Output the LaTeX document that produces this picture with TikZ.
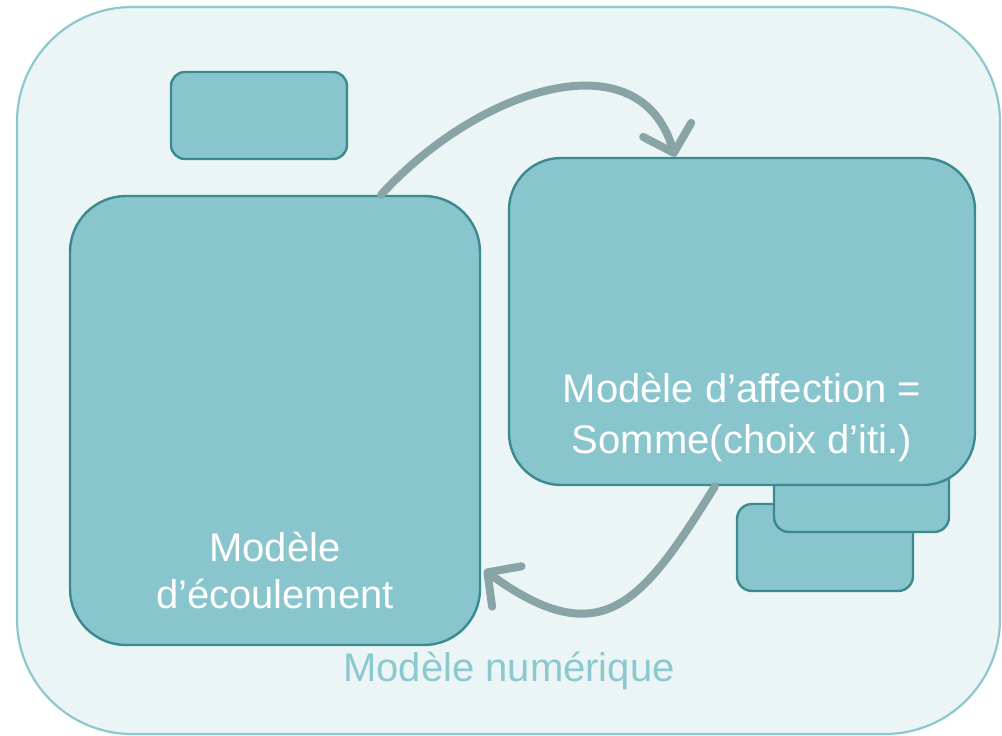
\documentclass[tikz,border=0pt]{standalone}
\usepackage{fontspec}
\setmainfont{Liberation Sans}
\usetikzlibrary{arrows.meta,calc}
\definecolor{panelfill}{HTML}{EBF5F6}
\definecolor{panelline}{HTML}{8CC8CE}
\definecolor{boxfill}{HTML}{89C5CC}
\definecolor{boxline}{HTML}{3B8A90}
\definecolor{flow}{HTML}{88A4A6}
\definecolor{captioncol}{HTML}{8CC8CE}

\begin{document}
\begin{tikzpicture}[x=1pt,y=-1pt,
  panel/.style={draw=panelline, fill=panelfill, line width=2.2pt, rectangle,
    rounded corners=115pt, inner sep=0pt},
  modelbox/.style={draw=boxline, fill=boxfill, line width=2.4pt, rectangle, inner sep=0pt},
  flowarrow/.style={draw=flow, line width=8pt, line cap=round,
    -{Straight Barb[length=24pt,width=50pt,line cap=round,line join=round]}},
  boxtext/.style={text=white, font=\fontsize{40}{51}\selectfont, align=center, inner sep=0pt},
  captiontext/.style={text=captioncol, font=\fontsize{40}{48}\selectfont, inner sep=0pt}]
\useasboundingbox (0,0) rectangle (1002,736);

% outer container
\node[panel, minimum width=983pt, minimum height=727pt] (panel) at (508.5,370.5) {};

% small box above the flow model
\node[modelbox, rounded corners=14pt, minimum width=176pt, minimum height=87pt] (small) at (259,115.5) {};

% stacked boxes behind the assignment model
\node[modelbox, rounded corners=15pt, minimum width=176pt, minimum height=87pt] (stackb) at (825,547.5) {};
\node[modelbox, rounded corners=15pt, minimum width=175pt, minimum height=92pt] (stacka) at (861.5,486) {};

% main models
\node[modelbox, rounded corners=52pt, minimum width=466pt, minimum height=327pt] (right) at (742,321.5) {};
\node[modelbox, rounded corners=56pt, minimum width=410pt, minimum height=449pt] (left) at (275,420.5) {};

% labels (base anchor sits on the last line)
\node[boxtext, anchor=base] (righttext) at (742,453) {Modèle d’affection =\\Somme(choix d’iti.)};
\node[boxtext, font=\fontsize{40}{47}\selectfont, anchor=base] (lefttext) at (275,608) {Modèle\\d’écoulement};
\node[captiontext, anchor=base] (caption) at (509,681) {Modèle numérique};

% exchanges between the two models
\draw[flowarrow] ([xshift=106pt]left.north) .. controls +(99,-108) and +(-35,-120) .. ([xshift=-67pt]right.north);
\draw[flowarrow] ([xshift=-27pt]right.south) .. controls +(-72,116) and +(118,86) .. ([xshift=3pt,yshift=-149.5pt]left.east);
\end{tikzpicture}
\end{document}
